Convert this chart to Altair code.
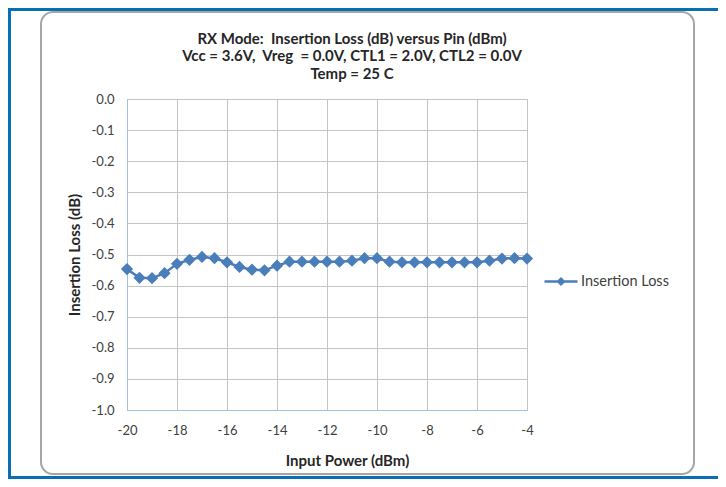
import altair as alt
import pandas as pd

pin_dbm = [-20.0, -19.5, -19.0, -18.5, -18.0, -17.5, -17.0, -16.5, -16.0, -15.5, -15.0,
           -14.5, -14.0, -13.5, -13.0, -12.5, -12.0, -11.5, -11.0, -10.5, -10.0,
           -9.5, -9.0, -8.5, -8.0, -7.5, -7.0, -6.5, -6.0, -5.5, -5.0, -4.5, -4.0]
insertion_loss = [-0.547, -0.575, -0.576, -0.560, -0.530, -0.517, -0.508, -0.512, -0.525, -0.540, -0.549,
                  -0.551, -0.536, -0.523, -0.523, -0.523, -0.523, -0.523, -0.520, -0.512, -0.512,
                  -0.523, -0.525, -0.525, -0.525, -0.525, -0.525, -0.525, -0.525, -0.520, -0.513, -0.512, -0.513]
series_name = "Insertion Loss"
title_lines = ["RX Mode:\u00a0 Insertion Loss (dB) versus Pin (dBm)",
               "Vcc = 3.6V,\u00a0 Vreg\u00a0 = 0.0V, CTL1 = 2.0V, CTL2 = 0.0V",
               "Temp = 25 C"]
x_ticks = [-20, -18, -16, -14, -12, -10, -8, -6, -4]
y_ticks = [0.0, -0.1, -0.2, -0.3, -0.4, -0.5, -0.6, -0.7, -0.8, -0.9, -1.0]

df = pd.DataFrame({"pin": pin_dbm, "il": insertion_loss, "series": [series_name] * len(pin_dbm)})

FONT = "Lato"
BLUE = "#4a7ebb"
LABEL_C = "#404040"

x_enc = alt.X("pin:Q", scale=alt.Scale(domain=[-20, -4], nice=False),
              axis=alt.Axis(values=x_ticks, title="Input Power (dBm)",
                            labelExpr="replace(format(datum.value, 'd'), '\u2212', '-')",
                            grid=True, gridColor="#c4c4c4", domainColor="#a3bfe3", ticks=False,
                            labelFlush=False, labelOverlap=False,
                            labelPadding=14, labelFont=FONT, labelFontSize=13, labelColor=LABEL_C,
                            titleFont=FONT, titleFontSize=15, titleFontWeight="bold", titleColor="#262626",
                            titleX=220, titleY=50, titleBaseline="middle"))
y_enc = alt.Y("il:Q", scale=alt.Scale(domain=[-1.0, 0.0], nice=False),
              axis=alt.Axis(values=y_ticks, title="Insertion Loss (dB)",
                            labelExpr="replace(format(datum.value, '.1f'), '\u2212', '-')",
                            grid=True, gridColor="#c4c4c4", domainColor="#a3bfe3", ticks=False,
                            labelFlush=False, labelOverlap=False,
                            labelPadding=13, labelFont=FONT, labelFontSize=13, labelColor=LABEL_C,
                            titleFont=FONT, titleFontSize=15, titleFontWeight="bold", titleColor="#262626",
                            titleX=-53, titleY=155.5, titleAngle=270, titleAlign="center",
                            titleBaseline="middle"))
color_enc = alt.Color("series:N", scale=alt.Scale(range=[BLUE]),
                      legend=alt.Legend(title=None, orient="none", legendX=416, legendY=164.5,
                                        symbolType="M-1,0H1M-0.17,0L0,-0.17L0.17,0L0,0.17Z",
                                        symbolSize=1089, symbolStrokeWidth=2.5,
                                        symbolFillColor=BLUE, symbolStrokeColor=BLUE,
                                        labelFont=FONT, labelFontSize=14.5, labelColor=LABEL_C,
                                        labelOffset=2, padding=0))

line = alt.Chart(df).mark_line(strokeWidth=2.5).encode(x=x_enc, y=y_enc, color=color_enc)
points = alt.Chart(df).mark_point(shape="diamond", filled=True, size=150, opacity=1).encode(
    x=x_enc, y=y_enc, color=color_enc)

deco_df = pd.DataFrame({"k": [0]})
frame = alt.Chart(deco_df).mark_rect(cornerRadius=12, fillOpacity=0, stroke="#a6a6a6",
                                     strokeWidth=2).encode(
    x=alt.value(-86), x2=alt.value(567), y=alt.value(-87), y2=alt.value(375))
blue_left = alt.Chart(deco_df).mark_rect(color="#0a6eb4").encode(
    x=alt.value(-119), x2=alt.value(-116), y=alt.value(-91), y2=alt.value(380))
blue_top = alt.Chart(deco_df).mark_rect(color="#0a6eb4").encode(
    x=alt.value(-119), x2=alt.value(591), y=alt.value(-91), y2=alt.value(-88))
blue_bottom = alt.Chart(deco_df).mark_rect(color="#0a6eb4").encode(
    x=alt.value(-119), x2=alt.value(591), y=alt.value(377), y2=alt.value(380))

title = alt.Chart(deco_df).mark_text(text=title_lines, font=FONT, fontSize=15, fontWeight="bold",
                                     color="#262626", lineHeight=17.8, align="center",
                                     baseline="middle").encode(
    x=alt.value(225), y=alt.value(-60.5))

chart = alt.layer(frame, blue_left, blue_top, blue_bottom, title, line, points).properties(
    width=400, height=311,
    autosize=alt.AutoSizeParams(type="none"),
    padding={"left": 119, "top": 91, "right": 191, "bottom": 69},
).configure_view(stroke=None).configure(background="white")

chart.save("out.html", embed_options={"renderer": "svg", "actions": False})
